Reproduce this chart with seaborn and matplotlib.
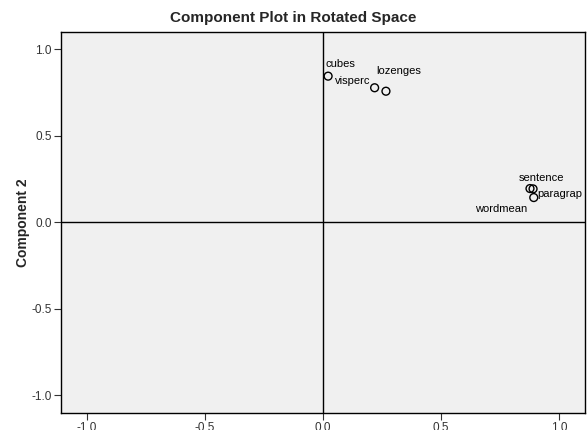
import matplotlib
matplotlib.use("Agg")
import matplotlib.pyplot as plt
import seaborn as sns
import pandas as pd

# Rotated component loadings
variables = ["cubes", "visperc", "lozenges", "sentence", "paragrap", "wordmean"]
component1 = [0.021, 0.218, 0.266, 0.876, 0.889, 0.892]
component2 = [0.844, 0.777, 0.757, 0.195, 0.193, 0.143]
tick_values = [-1.0, -0.5, 0.0, 0.5, 1.0]
tick_labels = ["-1.0", "-0.5", "0.0", "0.5", "1.0"]

# label offsets (points) relative to each loading point
label_offsets = {
    "cubes": (-2, 5, "left", "bottom"),
    "visperc": (-3, 5, "right", "center"),
    "lozenges": (-7, 11, "left", "bottom"),
    "sentence": (-8, 4, "left", "bottom"),
    "paragrap": (3, -4, "left", "center"),
    "wordmean": (-5, -8, "right", "center"),
}

df = pd.DataFrame({"variable": variables, "c1": component1, "c2": component2})

sns.set_style("white")
plt.rcParams["font.family"] = ["Liberation Sans", "DejaVu Sans"]

fig = plt.figure(figsize=(5.87, 4.30), dpi=100)
ax = fig.add_axes([0.104, 0.040, 0.893, 0.886])
ax.set_facecolor("#f0f0f0")

ax.axvline(0, color="black", lw=1.0, zorder=1)
ax.axhline(0, color="black", lw=1.0, zorder=1)

sns.scatterplot(data=df, x="c1", y="c2", ax=ax, marker="o", s=32,
                facecolor="none", edgecolor="black", linewidth=1.0, zorder=3)

for name, x, y in zip(variables, component1, component2):
    dx, dy, ha, va = label_offsets[name]
    ax.annotate(name, (x, y), xytext=(dx, dy), textcoords="offset points",
                ha=ha, va=va, fontsize=8, color="black")

ax.set_xlim(-1.11, 1.11)
ax.set_ylim(-1.10, 1.10)
ax.set_xticks(tick_values)
ax.set_xticklabels(tick_labels)
ax.set_yticks(tick_values)
ax.set_yticklabels(tick_labels)
ax.tick_params(axis="both", direction="out", length=5, width=0.8,
               labelsize=8.5, labelcolor="#333333", color="#333333",
               bottom=True, left=True, pad=1.5)

for side in ["top", "right", "bottom", "left"]:
    ax.spines[side].set_color("black")
    ax.spines[side].set_linewidth(1.0)

ax.set_xlabel("")
ax.set_ylabel("Component 2", fontsize=10, fontweight="bold", va="center")
ax.yaxis.set_label_coords(-0.072, 0.5)
fig.suptitle("Component Plot in Rotated Space", x=0.5, y=0.974,
             fontsize=11, fontweight="bold", va="top")

fig.savefig("out.png", dpi=100)
